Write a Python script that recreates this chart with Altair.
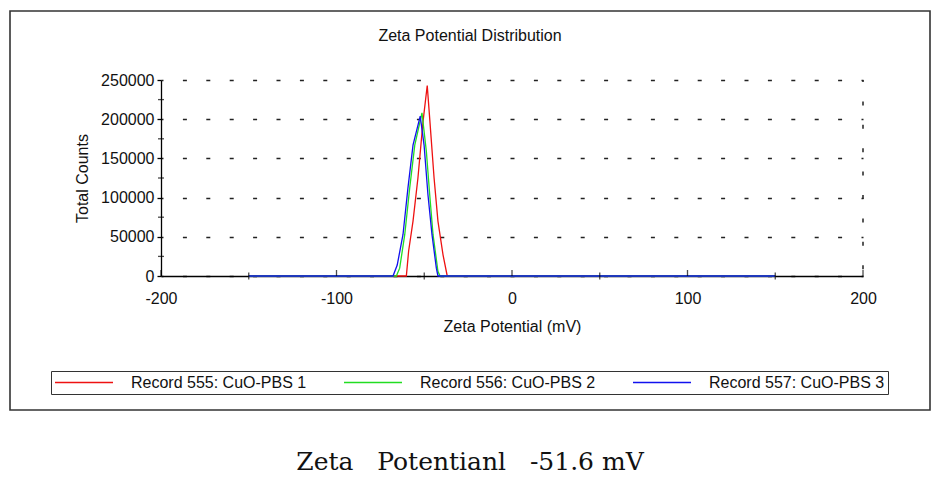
import altair as alt
import pandas as pd

# ---- data ----
series_names = ["Record 555: CuO-PBS 1", "Record 556: CuO-PBS 2", "Record 557: CuO-PBS 3"]
series_colors = ["#ee1111", "#22dd22", "#1111ee"]

red_zeta = [-150, -60.2, -58.9, -56.4, -53.6, -50.7, -48.3, -46.9, -44.4, -42.2, -39.3, -36.9, 150]
red_counts = [0, 0, 31900, 70000, 125000, 197000, 243000, 201000, 125000, 70000, 27000, 0, 0]

green_zeta = [-150, -65.9, -64.0, -61.1, -58.3, -55.4, -51.3, -48.8, -46.9, -45.0, -42.2, -41.0, 150]
green_counts = [0, 0, 10000, 53000, 112000, 167000, 208000, 159000, 104000, 53000, 6000, 0, 0]

blue_zeta = [-150, -67.8, -65.4, -62.1, -59.3, -56.4, -52.3, -50.1, -47.9, -45.6, -43.1, -42.2, 150]
blue_counts = [0, 0, 14000, 53000, 112000, 167000, 204000, 167000, 104000, 53000, 10000, 0, 0]

x_label_ticks = [-200, -100, 0, 100, 200]
x_minor_ticks = [-150, -50, 50, 150]
y_label_ticks = [0, 50000, 100000, 150000, 200000, 250000]
y_minor_ticks = [25000, 75000, 125000, 175000, 225000]

chart_title = "Zeta Potential Distribution"
x_title = "Zeta Potential (mV)"
y_title = "Total Counts"
NB = "\u00a0"
caption = "Zeta" + NB * 3 + "Potentianl" + NB * 3 + "-51.6" + NB + "mV"

FONT = "Liberation Sans"
W, H = 702, 196

rows = []
for name, zs, cs in [(series_names[0], red_zeta, red_counts),
                     (series_names[1], green_zeta, green_counts),
                     (series_names[2], blue_zeta, blue_counts)]:
    for z, c in zip(zs, cs):
        rows.append({"zeta": z, "counts": c, "series": name})
df = pd.DataFrame(rows)

xscale = alt.Scale(domain=[-200, 200], nice=False, zero=False)
yscale = alt.Scale(domain=[0, 250000], nice=False)

xaxis = alt.Axis(values=x_label_ticks, grid=False, ticks=False, tickSize=0,
                 labelExpr="'' + datum.value", labelOverlap=False,
                 labelPadding=14, labelFontSize=16, labelFont=FONT,
                 labelColor="#111", domainColor="#000", domainWidth=1.3,
                 title=x_title, titleFont=FONT, titleFontSize=16,
                 titleFontWeight="normal", titleColor="#111", titlePadding=12,
                 labelFlush=False)
yaxis = alt.Axis(values=y_label_ticks, format="d", grid=True, labelOverlap=False,
                 gridDash=[4, 19.4], gridDashOffset=2, gridColor="#222",
                 gridWidth=1.5, gridOpacity=1,
                 ticks=True, tickSize=4, tickColor="#000", tickWidth=1.3,
                 labelPadding=3, labelFontSize=16, labelFont=FONT,
                 labelColor="#111", domainColor="#000", domainWidth=1.3,
                 title=y_title, titleFont=FONT, titleFontSize=16,
                 titleFontWeight="normal", titleColor="#111", titlePadding=10)

lines = alt.Chart(df).mark_line(strokeWidth=1.3).encode(
    x=alt.X("zeta:Q", scale=xscale, axis=xaxis),
    y=alt.Y("counts:Q", scale=yscale, axis=yaxis),
    color=alt.Color("series:N",
                    scale=alt.Scale(domain=series_names, range=series_colors),
                    legend=alt.Legend(orient="none", legendX=-110, legendY=291,
                                      direction="horizontal", columns=3, title=None,
                                      symbolType="stroke", symbolSize=3364,
                                      symbolStrokeWidth=1.3, clipHeight=17,
                                      labelFontSize=16, labelFont=FONT, labelColor="#111",
                                      labelOffset=17, labelLimit=300, columnPadding=36,
                                      padding=3, strokeColor="#333")),
)

# dashed right border (grid line at x = 200)
right_grid = alt.Chart(pd.DataFrame({"zeta": [200]})).mark_rule(
    strokeDash=[4, 19.4], strokeDashOffset=2, color="#222", strokeWidth=1.5
).encode(x=alt.X("zeta:Q", scale=xscale, axis=xaxis),
         y=alt.Y(datum=250000, scale=yscale, axis=yaxis), y2=alt.datum(0))

xmajor = alt.Chart(pd.DataFrame({"zeta": x_label_ticks})).mark_tick(
    orient="vertical", size=6, thickness=1.3, yOffset=-3, color="#000"
).encode(x=alt.X("zeta:Q", scale=xscale, axis=xaxis),
         y=alt.Y(datum=0, scale=yscale, axis=yaxis))

xminor = alt.Chart(pd.DataFrame({"zeta": x_minor_ticks})).mark_tick(
    orient="vertical", size=7, thickness=1.3, color="#000"
).encode(x=alt.X("zeta:Q", scale=xscale, axis=xaxis),
         y=alt.Y(datum=0, scale=yscale, axis=yaxis))

yminor = alt.Chart(pd.DataFrame({"counts": y_minor_ticks})).mark_tick(
    orient="horizontal", size=6, thickness=1.3, color="#000"
).encode(y=alt.Y("counts:Q", scale=yscale, axis=yaxis),
         x=alt.X(datum=-200, scale=xscale, axis=xaxis))

one = pd.DataFrame({"a": [0]})
frame = alt.Chart(one).mark_rect(fillOpacity=0, stroke="#333", strokeWidth=1.6).encode(
    x=alt.value(-151), x2=alt.value(769), y=alt.value(-69), y2=alt.value(330)
)
title_txt = alt.Chart(one).mark_text(
    font=FONT, fontSize=16, color="#111", align="center", baseline="middle"
).encode(x=alt.value(309), y=alt.value(-44), text=alt.value(chart_title))
caption_txt = alt.Chart(one).mark_text(
    font="DejaVu Serif", fontSize=25, color="#111", align="center", baseline="middle"
).encode(x=alt.value(309), y=alt.value(382), text=alt.value(caption))

chart = alt.layer(lines, right_grid, xmajor, xminor, yminor, frame, title_txt, caption_txt).properties(
    width=W, height=H,
    background="white",
    autosize=alt.AutoSizeParams(type="none"),
    padding={"left": 153, "top": 72, "right": 77, "bottom": 204},
).configure_view(stroke=None)

chart.save("out.html", embed_options={"renderer": "svg", "actions": False})
